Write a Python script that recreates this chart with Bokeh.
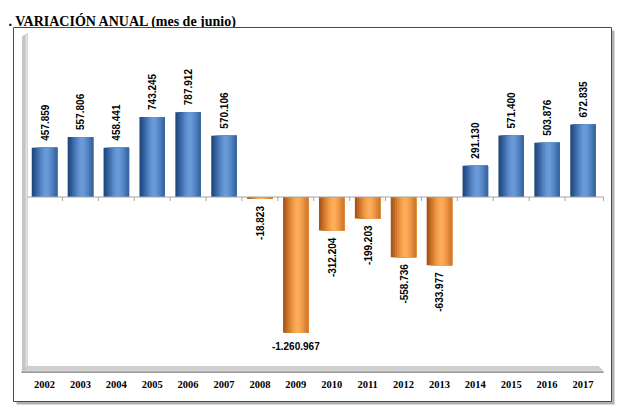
import numpy as np
from bokeh.plotting import figure
from bokeh.models import Range1d
from bokeh.core.properties import value
from bokeh.embed import file_html
from bokeh.resources import INLINE

# ---- data ----
years = [2002, 2003, 2004, 2005, 2006, 2007, 2008, 2009,
         2010, 2011, 2012, 2013, 2014, 2015, 2016, 2017]
values = [457859, 557806, 458441, 743245, 787912, 570106, -18823, -1260967,
          -312204, -199203, -558736, -633977, 291130, 571400, 503876, 672835]
labels = ["457.859", "557.806", "458.441", "743.245", "787.912", "570.106",
          "-18.823", "-1.260.967", "-312.204", "-199.203", "-558.736", "-633.977",
          "291.130", "571.400", "503.876", "672.835"]
year_labels = [str(y) for y in years]
title_text = ". VARIACIÓN ANUAL (mes de junio)"

# ---- geometry helpers (pixel -> data) ----
PX_X = 35.9          # pixels per category
PX_Y = 9290.0        # data units per pixel
X0_PIX, Y0_PIX = 44.0, 196.5
def dx(sx):
    return years[0] + (sx - X0_PIX) / PX_X
def dy(sy):
    return (Y0_PIX - sy) * PX_Y

W, H = 620, 408
p = figure(width=W, height=H, output_backend="svg", toolbar_location=None,
           x_range=Range1d(dx(0), dx(W)), y_range=Range1d(dy(H), dy(0)),
           x_axis_type=None, y_axis_type=None,
           min_border_left=0, min_border_right=0, min_border_top=0, min_border_bottom=0)
p.grid.visible = False
p.background_fill_color = "white"
p.border_fill_color = "white"
p.outline_line_color = None

# ---- title ----
p.text(x=[dx(8)], y=[dy(20.5)], text=[title_text], text_align="left",
       text_baseline="alphabetic", text_font=value("Liberation Serif"),
       text_font_style="bold", text_font_size="14px", text_color="black")

# ---- outer box with shadow ----
p.quad(left=[dx(16)], right=[dx(614)], top=[dy(30)], bottom=[dy(404)],
       fill_color="#9c9c9c", line_color=None, fill_alpha=0.8)
p.quad(left=[dx(13)], right=[dx(611)], top=[dy(27)], bottom=[dy(401)],
       fill_color="white", line_color="#4a4a4a", line_width=1)

# ---- 3D wall and floor ----
p.patch([dx(22), dx(27), dx(27), dx(22)], [dy(36), dy(33), dy(368), dy(371)],
        fill_color="#c4c4c4", line_color="#b0b0b0", line_width=0.5)
p.patch([dx(25), dx(27), dx(27), dx(25)], [dy(34.5), dy(33), dy(368), dy(369.5)],
        fill_color="#e2e2e2", line_color=None)
p.patch([dx(21), dx(27), dx(598), dx(603)], [dy(371), dy(366), dy(366), dy(371)],
        fill_color="#cfcfcf", line_color="#b5b5b5", line_width=0.5)
p.patch([dx(21), dx(603), dx(603), dx(21)], [dy(371), dy(371), dy(372.5), dy(372.5)],
        fill_color="#9a9a9a", line_color=None)

# ---- bars as cylinder strips (layered, no seams) ----
yrs = np.array(years, dtype=float)
vals = np.array(values, dtype=float)
pos = vals >= 0
BW = 0.71
blue = ["#22497d", "#2d5891", "#3a67a3", "#4877b6", "#5686c6", "#6293d2",
        "#6a9bd9", "#6898d6", "#5e8ecd", "#5282c0", "#4574b0", "#3a67a1"]
orange = ["#a9561a", "#bd6622", "#d0772c", "#e08837", "#ee9844", "#f7a551",
          "#fcad5b", "#fbab58", "#f4a04e", "#ea9443", "#dd8638", "#cf7a2f"]
n = len(blue)
sw = BW / n
for k in range(n):
    wk = BW - k * sw
    off = -BW / 2 + k * sw + wk / 2
    p.vbar(x=yrs[pos] + off, top=vals[pos], bottom=0, width=wk,
           fill_color=blue[k], line_color=None)
    p.vbar(x=yrs[~pos] + off, top=0, bottom=vals[~pos], width=wk,
           fill_color=orange[k], line_color=None)

# ---- zero line with ticks ----
p.segment(x0=dx(27), y0=0, x1=dx(603), y1=0, line_color="#a6a6a6", line_width=1.2)
p.segment(x0=yrs[:-1] + 0.5, y0=0, x1=yrs[:-1] + 0.5, y1=-4 * PX_Y,
          line_color="#a6a6a6", line_width=1)
p.segment(x0=[dx(603)], y0=[0], x1=[dx(603)], y1=[-4 * PX_Y],
          line_color="#a6a6a6", line_width=1)

# ---- value labels ----
lab = np.array(labels)
p.text(x=yrs[pos], y=vals[pos], text=lab[pos].tolist(), angle=np.pi / 2,
       text_align="left", text_baseline="middle", y_offset=-7,
       text_font=value("Liberation Sans"), text_font_style="bold",
       text_font_size="10px", text_color="black")
rot_neg = (~pos) & (vals > -1_000_000)
p.text(x=yrs[rot_neg], y=vals[rot_neg], text=lab[rot_neg].tolist(), angle=np.pi / 2,
       text_align="right", text_baseline="middle", y_offset=7,
       text_font=value("Liberation Sans"), text_font_style="bold",
       text_font_size="10px", text_color="black")
big = vals <= -1_000_000
p.text(x=yrs[big], y=vals[big], text=lab[big].tolist(),
       text_align="center", text_baseline="top", y_offset=9,
       text_font=value("Liberation Sans"), text_font_style="bold",
       text_font_size="10px", text_color="black")

# ---- year labels ----
p.text(x=yrs, y=[dy(384)] * len(years), text=year_labels,
       text_align="center", text_baseline="middle",
       text_font=value("Liberation Serif"), text_font_style="bold",
       text_font_size="10.5px", text_color="black")

open("out.html", "w").write(file_html(p, INLINE))
